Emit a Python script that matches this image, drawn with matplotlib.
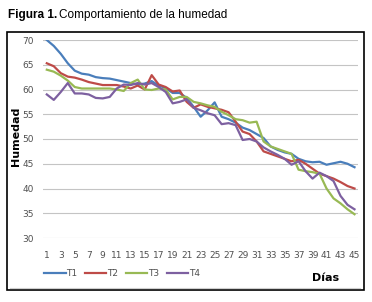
"""Figura 1: comportamiento de la humedad (T1-T4 por día)."""
import matplotlib
matplotlib.use("Agg")
import matplotlib.pyplot as plt
from matplotlib.patches import Rectangle
from matplotlib.lines import Line2D

days = list(range(1, 46))
t1 = [70.0, 68.8, 67.2, 65.3, 63.8, 63.2, 63.0, 62.5, 62.3, 62.2,
      61.9, 61.6, 61.3, 61.0, 61.2, 61.7, 60.8, 60.3, 59.3, 59.3,
      58.3, 56.5, 54.5, 55.8, 57.4, 54.5, 54.0, 53.3, 52.3, 51.8,
      51.0, 50.2, 48.5, 47.8, 47.3, 47.0, 46.0, 45.5, 45.3, 45.4,
      44.8, 45.1, 45.4, 45.0, 44.3]
t2 = [65.3, 64.7, 63.3, 62.6, 62.4, 62.0, 61.5, 61.2, 60.9, 60.9,
      60.9, 60.6, 60.2, 60.8, 60.0, 62.9, 61.0, 60.5, 59.6, 59.8,
      57.5, 56.3, 57.0, 56.5, 56.2, 55.9, 55.4, 53.5, 51.5, 51.0,
      49.5, 47.5, 47.0, 46.5, 46.0, 45.5, 45.8, 45.0, 44.0, 43.0,
      42.5, 42.0, 41.3, 40.5, 40.0]
t3 = [64.0, 63.6, 62.8, 61.8, 60.5, 60.2, 60.2, 60.2, 60.2, 60.2,
      60.0, 59.7, 61.3, 62.0, 60.0, 59.9, 60.2, 60.0, 58.0, 58.5,
      58.5, 57.5, 57.2, 56.8, 56.5, 55.5, 54.8, 54.0, 53.8, 53.3,
      53.5, 49.5, 48.5, 48.0, 47.5, 47.0, 43.8, 43.5, 43.3, 43.0,
      40.0, 38.0, 37.0, 35.8, 34.8]
t4 = [59.0, 57.9, 59.5, 61.3, 59.2, 59.2, 59.0, 58.3, 58.2, 58.5,
      60.2, 61.0, 60.9, 61.3, 61.0, 61.3, 60.5, 59.5, 57.2, 57.5,
      58.0, 56.3, 55.8, 55.2, 54.8, 53.0, 53.2, 52.8, 49.8, 50.0,
      49.5, 48.3, 47.5, 46.8, 46.0, 44.8, 45.5, 43.5, 42.0, 43.2,
      42.5, 41.5, 38.5, 36.7, 35.8]
labels = ["T1", "T2", "T3", "T4"]
colors = ["#4a7ebb", "#be4b48", "#98b954", "#7d60a0"]
yticks = [30, 35, 40, 45, 50, 55, 60, 65, 70]
xticks = days[::2]

W, H = 372, 302
fig = plt.figure(figsize=(W / 100, H / 100), dpi=100)
ax = fig.add_axes([43.3 / W, 1 - 238 / H, (358 - 43.3) / W, (238 - 40) / H])

for vals, lab, c in zip([t1, t2, t3, t4], labels, colors):
    ax.plot(days, vals, color=c, linewidth=1.6, label=lab)

ax.set_xlim(0.5, 45.5)
ax.set_ylim(30, 70)
ax.set_yticks(yticks)
ax.set_xticks(xticks)
ax.tick_params(length=0, labelsize=6.5, labelcolor="#505050", pad=7)
ax.tick_params(axis="x", pad=9)
ax.grid(True, axis="y", color="#c4c4c4", linewidth=0.8)
ax.set_axisbelow(True)
for s in ax.spines.values():
    s.set_visible(False)

# outer frame and inner light line
fig.patches.append(Rectangle((7 / W, 1 - 290 / H), (364 - 7) / W, (290 - 32) / H,
                             transform=fig.transFigure, fill=False,
                             edgecolor="black", linewidth=1.2))
fig.lines.append(Line2D([10 / W, 360 / W], [1 - 287.5 / H] * 2,
                        transform=fig.transFigure, color="#cfcfcf", linewidth=0.8))

fig.text(16 / W, 1 - 136 / H, "Humedad", rotation=90, ha="center", va="center",
         fontsize=8, fontweight="bold")
fig.text(326 / W, 1 - 278 / H, "Días", ha="center", va="center",
         fontsize=8, fontweight="bold")

fig.legend(loc="center", bbox_to_anchor=(122 / W, 1 - 274 / H), ncol=4,
           frameon=False, fontsize=6.5, handlelength=2.4, handletextpad=0.1,
           columnspacing=0.8, labelcolor="#505050")

# title in two parts
t = fig.text(8 / W, 1 - 15 / H, "Figura 1.", ha="left", va="center",
             fontsize=8.5, fontweight="bold", family="Liberation Sans")
fig.canvas.draw()
bb = t.get_window_extent()
fig.text(bb.x1 / W + 2 / W, 1 - 15 / H, "Comportamiento de la humedad",
         ha="left", va="center", fontsize=8.5, family="Liberation Sans")

fig.savefig("out.png", dpi=100)
